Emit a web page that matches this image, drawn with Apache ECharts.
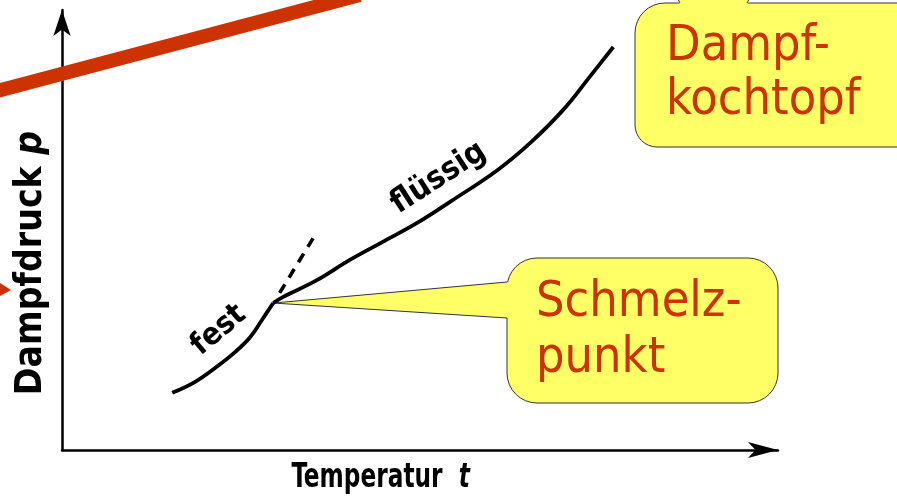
<!DOCTYPE html>
<html>
<head>
<meta charset="utf-8">
<script src="https://cdn.jsdelivr.net/npm/echarts@6/dist/echarts.min.js"></script>
<style>
html,body{margin:0;padding:0;background:#fff;}
#chart{width:897px;height:496px;}
</style>
</head>
<body>
<div id="chart"></div>
<script>
// Curve data (arbitrary units)
const festX   = [15.4, 18.6, 21.6, 24.2, 26.3, 27.9, 29.5];
const festY   = [13.0, 15.5, 18.9, 22.3, 25.7, 29.5, 33.4];
const liquidX = [29.5, 30.9, 35.6, 40.2, 44.8, 49.6, 54.2, 60.8, 65.4, 70.0, 73.7, 77.0];
const liquidY = [33.4, 34.8, 38.6, 43.2, 47.3, 51.6, 56.4, 63.6, 69.8, 77.3, 84.8, 91.6];
const dashX   = [30.4, 35.1];
const dashY   = [35.7, 48.2];
const redX    = [-10, 41.6];
const redY    = [81.2, 103.4];
const meltPoint = [29.5, 33.4];
const xName = 'Temperatur';
const yName = 'Dampfdruck';
const callout1 = ['Dampf-', 'kochtopf'];
const callout2 = ['Schmelz-', 'punkt'];

const zip = (xs, ys) => xs.map((x, i) => [x, ys[i]]);

const chart = echarts.init(document.getElementById('chart'), null, {renderer: 'canvas'});
const axisFont = '"DejaVu Sans Condensed", "DejaVu Sans", sans-serif';
const calloutFont = '"DejaVu Sans Condensed", "DejaVu Sans", sans-serif';
const RED = '#CC3300';
const YELLOW = '#FFFF66';

chart.setOption({
  animation: false,
  backgroundColor: '#fff',
  grid: {left: 62, right: 119, top: 10, bottom: 46},
  xAxis: {
    type: 'value', min: 0, max: 100,
    axisLine: {show: true, symbol: ['none', 'arrow'], symbolSize: [12, 30],
      lineStyle: {color: '#000', width: 2.5}},
    axisTick: {show: false}, axisLabel: {show: false}, splitLine: {show: false}
  },
  yAxis: {
    type: 'value', min: 0, max: 100,
    axisLine: {show: true, symbol: ['none', 'arrow'], symbolSize: [13, 26],
      lineStyle: {color: '#000', width: 2.5}},
    axisTick: {show: false}, axisLabel: {show: false}, splitLine: {show: false}
  },
  series: [
    {type: 'line', data: zip(festX, festY), smooth: 0.4, showSymbol: false, silent: true,
      lineStyle: {color: '#000', width: 3.8}, z: 3},
    {type: 'line', data: zip(liquidX, liquidY), smooth: 0.4, showSymbol: false, silent: true,
      lineStyle: {color: '#000', width: 3.8}, z: 3},
    {type: 'line', data: zip(dashX, dashY), showSymbol: false, silent: true,
      lineStyle: {color: '#000', width: 3.6, type: [10, 8]}, z: 3}
  ]
});

const px = p => chart.convertToPixel({gridIndex: 0}, p);
const tip = px(meltPoint);
const festPos = px([21.9, 27.2]);
const fluPos = px([52.6, 61.8]);
const r0 = px([redX[0], redY[0]]);
const r1 = px([redX[1], redY[1]]);
const xTitlePos = px([44.5, 0]);   // centre below x axis
const yTitlePos = px([0, 42.5]);   // centre left of y axis

const titleRich = size => ({
  a: {fontFamily: axisFont, fontWeight: 'bold', fontSize: size, fill: '#000'},
  b: {fontFamily: axisFont, fontWeight: 'bold', fontStyle: 'italic', fontSize: size, fill: '#000'}
});

chart.setOption({
  graphic: [
    // axis titles
    {type: 'text', x: xTitlePos[0], y: xTitlePos[1] + 28, scaleX: 0.76, z: 10,
      style: {text: '{a|' + xName + '  }{b|t}', rich: titleRich(34), align: 'center', verticalAlign: 'middle'}},
    {type: 'text', x: yTitlePos[0] - 31, y: yTitlePos[1], rotation: Math.PI / 2, z: 10,
      style: {text: '{a|' + yName + ' }{b|p}', rich: titleRich(37), align: 'center', verticalAlign: 'middle'}},
    // red stroke (partly outside the picture)
    {type: 'line', z: 20, shape: {x1: r0[0], y1: r0[1], x2: r1[0], y2: r1[1]},
      style: {stroke: RED, lineWidth: 14}},
    {type: 'polygon', z: 20, shape: {points: [[0, 283], [11, 290], [0, 296]]}, style: {fill: RED}},
    {type: 'text', x: festPos[0], y: festPos[1], rotation: 40 * Math.PI / 180, z: 10,
      style: {text: 'fest', font: 'bold 31px ' + axisFont, fill: '#000', align: 'center', verticalAlign: 'middle'}},
    {type: 'text', x: fluPos[0], y: fluPos[1], rotation: 33 * Math.PI / 180, z: 10,
      style: {text: 'flüssig', font: 'bold 32px ' + axisFont, fill: '#000', align: 'center', verticalAlign: 'middle'}},
    // Dampfkochtopf callout
    {type: 'rect', z: 1, shape: {x: 635, y: 3, width: 300, height: 144, r: [30, 0, 0, 22]},
      style: {fill: YELLOW, stroke: '#333', lineWidth: 1}},
    {type: 'polygon', z: 1, shape: {points: [[680, 5], [668, -20], [760, -20], [747, 5]]},
      style: {fill: YELLOW}},
    {type: 'polyline', z: 1, shape: {points: [[680, 3], [668, -20]]}, style: {stroke: '#333', lineWidth: 1}},
    {type: 'polyline', z: 1, shape: {points: [[747, 3], [760, -20]]}, style: {stroke: '#333', lineWidth: 1}},
    {type: 'text', x: 666, y: 47, z: 11,
      style: {text: callout1[0], font: '50px ' + calloutFont, fill: RED, verticalAlign: 'middle'}},
    {type: 'text', x: 666, y: 101, z: 11,
      style: {text: callout1[1], font: '50px ' + calloutFont, fill: RED, verticalAlign: 'middle'}},
    // Schmelzpunkt callout
    {type: 'rect', z: 1, shape: {x: 507, y: 258, width: 271, height: 145, r: 30},
      style: {fill: YELLOW, stroke: '#333', lineWidth: 1}},
    {type: 'polygon', z: 1, shape: {points: [[509, 282], tip, [509, 318]]}, style: {fill: YELLOW}},
    {type: 'polyline', z: 1, shape: {points: [[507, 282], tip, [507, 318]]}, style: {stroke: '#333', lineWidth: 1}},
    {type: 'text', x: 536, y: 303, z: 11,
      style: {text: callout2[0], font: '50px ' + calloutFont, fill: RED, verticalAlign: 'middle'}},
    {type: 'text', x: 536, y: 359, z: 11,
      style: {text: callout2[1], font: '50px ' + calloutFont, fill: RED, verticalAlign: 'middle'}}
  ]
});
</script>
</body>
</html>
